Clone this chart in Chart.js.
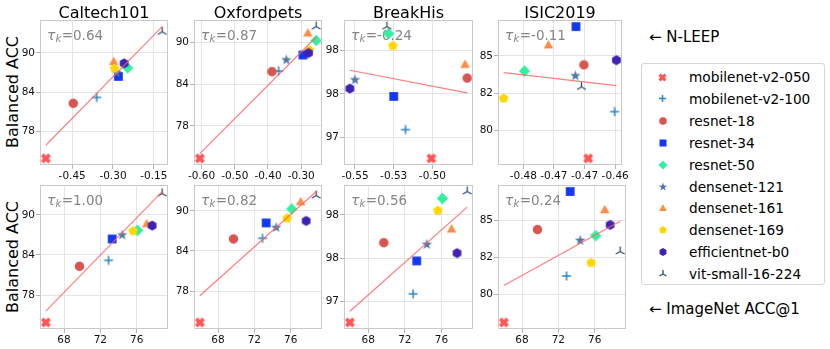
<!DOCTYPE html>
<html>
<head>
<meta charset="utf-8">
<title>N-LEEP vs ImageNet ACC</title>
<script src="https://cdn.jsdelivr.net/npm/chart.js@4.4.0/dist/chart.umd.min.js"></script>
<style>
  body { margin: 0; background: #fff; font-family: "DejaVu Sans", sans-serif; color: #000; }
  #wrap { position: relative; width: 830px; height: 349px; overflow: hidden; }
  .panel { position: absolute; }
  .ylabel { position: absolute; left: 12px; font-size: 16px; white-space: nowrap;
            transform: translate(-50%, -50%) rotate(-90deg); }
  #legend { position: absolute; left: 641px; top: 63px; width: 184px; height: 222px;
            border: 1px solid #d6d6d6; border-radius: 3px; box-sizing: border-box; background: #fff; }
  .item { position: absolute; font-size: 13.7px; line-height: 18px; white-space: nowrap; }
  .mk { position: absolute; }
  .arrow { position: absolute; left: 649px; font-size: 15px; line-height: 18px; white-space: nowrap; }
</style>
</head>
<body>
<div id="wrap">
  <div class="ylabel" style="top:92px">Balanced ACC</div>
  <div class="ylabel" style="top:257px">Balanced ACC</div>
  <div class="arrow" style="top:28px">← N-LEEP</div>
  <div class="arrow" style="top:300px">← ImageNet ACC@1</div>
  <div id="legend"></div>
</div>
<script>
// models, in legend order
const models = ['mobilenet-v2-050', 'mobilenet-v2-100', 'resnet-18', 'resnet-34', 'resnet-50',
  'densenet-121', 'densenet-161', 'densenet-169', 'efficientnet-b0', 'vit-small-16-224'];
const shapes = ['x', 'plus', 'circle', 'square', 'diamond', 'star', 'triangle', 'pentagon', 'hexagon', 'tri'];
const colors = ['#ff5555', '#2b86c5', '#d95550', '#1437f0', '#33f0a0',
  '#4f7aa8', '#ff8c45', '#ffd700', '#3f22b5', '#2f4b6e'];

const titles = ['Caltech101', 'Oxfordpets', 'BreakHis', 'ISIC2019'];

const imagenetAcc = [66.0, 72.9, 69.7, 73.3, 76.1, 74.4, 77.1, 75.6, 77.7, 78.8];

const nleepCaltech = [-0.547, -0.360, -0.446, -0.280, -0.246, -0.287, -0.297, -0.294, -0.259, -0.119];
const nleepOxford = [-0.605, -0.368, -0.388, -0.295, -0.255, -0.345, -0.280, -0.275, -0.278, -0.255];
const nleepBreakHis = [-0.5007, -0.5174, -0.4776, -0.525, -0.5283, -0.55, -0.4789, -0.5255, -0.5533, -0.5294];
const nleepIsic = [-0.4694, -0.4651, -0.4701, -0.4714, -0.4798, -0.4715, -0.4759, -0.4832, -0.4648, -0.4705];

const baccCaltech = [73.9, 83.2, 82.3, 86.4, 87.7, 87.0, 88.7, 87.6, 88.4, 93.2];
const baccOxford = [73.3, 85.9, 85.8, 88.2, 90.3, 87.5, 91.4, 88.9, 88.5, 92.3];
const baccBreakHis = [97.01, 97.34, 97.93, 97.72, 98.44, 97.91, 98.09, 98.30, 97.81, 98.52];
const baccIsic = [78.1, 81.25, 84.39, 86.97, 83.98, 83.66, 85.75, 82.14, 84.71, 82.91];

const tauNleep = ['0.64', '0.87', '-0.24', '-0.11'];
const tauImagenet = ['1.00', '0.82', '0.56', '0.24'];

// fitted lines, endpoints
const fitNleepX = [[-0.547, -0.119], [-0.605, -0.255], [-0.5533, -0.4776], [-0.4832, -0.4648]];
const fitNleepY = [[75.9, 94.0], [74.0, 90.8], [98.02, 97.76], [83.87, 83.0]];
const fitImagenetX = [66.0, 78.8];
const fitImagenetY = [[75.6, 93.5], [77.3, 92.9], [97.14, 98.34], [80.61, 84.96]];

// tick values and the labels shown for them
const nleepTicks = [[-0.45, -0.30, -0.15], [-0.6, -0.5, -0.4, -0.3], [-0.55, -0.525, -0.50], [-0.48, -0.475, -0.47, -0.465]];
const nleepTickLabels = [['-0.45', '-0.30', '-0.15'], ['-0.60', '-0.50', '-0.40', '-0.30'],
  ['-0.55', '-0.53', '-0.50'], ['-0.48', '-0.47', '-0.47', '-0.46']];
const imagenetTicks = [68, 72, 76];
const imagenetTickLabels = ['68', '72', '76'];
const baccTicks = [[78, 84, 90], [78, 84, 90], [97.25, 97.75, 98.25], [80, 82.5, 85]];
const baccTickLabels = [['78', '84', '90'], ['78', '84', '90'], ['97', '98', '98'], ['80', '82', '85']];

const nleepAll = [nleepCaltech, nleepOxford, nleepBreakHis, nleepIsic];
const baccAll = [baccCaltech, baccOxford, baccBreakHis, baccIsic];

// ---- marker images (matplotlib-like shapes) ----
function drawMarker(g, shape, m, s, color) {
  const r = s / 2;
  g.fillStyle = color;
  g.strokeStyle = color;
  g.beginPath();
  if (shape === 'circle') {
    g.arc(m, m, r, 0, Math.PI * 2);
    g.fill();
  } else if (shape === 'square') {
    g.fillRect(m - r * 0.92, m - r * 0.92, r * 1.84, r * 1.84);
  } else if (shape === 'diamond') {
    g.moveTo(m, m - r * 1.2); g.lineTo(m + r * 1.2, m); g.lineTo(m, m + r * 1.2); g.lineTo(m - r * 1.2, m);
    g.closePath(); g.fill();
  } else if (shape === 'triangle') {
    g.moveTo(m, m - r); g.lineTo(m + r, m + r * 0.8); g.lineTo(m - r, m + r * 0.8);
    g.closePath(); g.fill();
  } else if (shape === 'pentagon' || shape === 'hexagon' || shape === 'star') {
    const n = shape === 'pentagon' ? 5 : shape === 'hexagon' ? 6 : 10;
    for (let k = 0; k < n; k++) {
      const a = -Math.PI / 2 + k * 2 * Math.PI / n;
      const rr = shape === 'star' ? (k % 2 ? r * 0.45 : r * 1.1) : r;
      const px = m + rr * Math.cos(a), py = m + rr * Math.sin(a);
      k ? g.lineTo(px, py) : g.moveTo(px, py);
    }
    g.closePath(); g.fill();
  } else if (shape === 'plus') {
    g.lineWidth = 1.5;
    g.moveTo(m - r, m); g.lineTo(m + r, m);
    g.moveTo(m, m - r); g.lineTo(m, m + r);
    g.stroke();
  } else if (shape === 'tri') {
    g.lineWidth = 1.3;
    g.moveTo(m, m); g.lineTo(m, m - r);
    g.moveTo(m, m); g.lineTo(m - r * 0.87, m + r * 0.5);
    g.moveTo(m, m); g.lineTo(m + r * 0.87, m + r * 0.5);
    g.stroke();
  } else if (shape === 'x') {
    const w = r * 0.42;
    g.translate(m, m);
    for (const ang of [Math.PI / 4, -Math.PI / 4]) {
      g.save(); g.rotate(ang); g.fillRect(-r * 1.15, -w, r * 2.3, 2 * w); g.restore();
    }
    g.setTransform(1, 0, 0, 1, 0, 0);
  }
}

const markerSize = [9, 9, 9.5, 9.5, 9.5, 10, 9.5, 10, 10, 10];

function markerImage(i, scale) {
  const s = markerSize[i] * scale;
  const n = Math.ceil(s * 1.5) + 2;
  const c = document.createElement('canvas');
  c.width = n; c.height = n;
  drawMarker(c.getContext('2d'), shapes[i], n / 2, s, colors[i]);
  return c;
}

const pointImages = models.map((_, i) => markerImage(i, 1));

// ---- legend ----
const legend = document.getElementById('legend');
models.forEach((name, i) => {
  const cy = 13 + i * 21.9;
  const img = markerImage(i, 0.8);
  img.className = 'mk';
  img.style.left = (20.5 - img.width / 2) + 'px';
  img.style.top = (cy - img.height / 2) + 'px';
  legend.appendChild(img);
  const t = document.createElement('div');
  t.className = 'item';
  t.textContent = name;
  t.style.left = '47px';
  t.style.top = (cy - 9) + 'px';
  legend.appendChild(t);
});

// ---- panels ----
const plotX = [[40, 128], [194, 128], [344, 129], [498, 128]];
const plotY = [[20, 145], [185, 144]];
const M = { l: 40, t: 20, r: 4, b: 20 };

const panelDecor = {
  id: 'panelDecor',
  beforeDatasetsDraw(chart, args, o) {
    const { ctx, chartArea: a } = chart;
    ctx.save();
    let x = a.left + 7, y = a.top + 19.5;
    ctx.fillStyle = '#858585';
    ctx.textAlign = 'left';
    ctx.textBaseline = 'alphabetic';
    ctx.font = 'italic 14px "DejaVu Sans"';
    ctx.fillText('τ', x, y);
    x += ctx.measureText('τ').width;
    ctx.font = 'italic 10px "DejaVu Sans"';
    ctx.fillText('k', x, y + 2.5);
    x += ctx.measureText('k').width + 0.5;
    ctx.font = '13.5px "DejaVu Sans"';
    ctx.fillText('=' + o.tau, x, y);
    ctx.restore();
  },
  afterDraw(chart, args, o) {
    const { ctx, chartArea: a } = chart;
    ctx.save();
    ctx.strokeStyle = '#c9c9c9';
    ctx.lineWidth = 1;
    ctx.strokeRect(Math.round(a.left) + 0.5, Math.round(a.top) + 0.5,
      Math.round(a.right - a.left) - 1, Math.round(a.bottom - a.top) - 1);
    if (o.title) {
      ctx.fillStyle = '#000';
      ctx.font = '16px "DejaVu Sans"';
      ctx.textAlign = 'center';
      ctx.textBaseline = 'alphabetic';
      ctx.fillText(o.title, (a.left + a.right) / 2, a.top - 2.5);
    }
    ctx.restore();
  }
};

function limits(vals) {
  const lo = Math.min(...vals), hi = Math.max(...vals);
  const pad = (hi - lo) * 0.05;
  return [lo - pad, hi + pad];
}

function axis(pos, lim, ticks, labels, size) {
  return {
    type: 'linear',
    position: pos,
    min: lim[0],
    max: lim[1],
    afterBuildTicks: s => { s.ticks = ticks.map(v => ({ value: v })); },
    afterFit: s => { if (pos === 'left') s.width = size; else s.height = size; },
    ticks: {
      callback: (v, i) => labels[i],
      color: '#111',
      font: { family: 'DejaVu Sans', size: 10.5 },
      padding: 1,
      autoSkip: false,
      maxRotation: 0
    },
    grid: { color: '#e4e4e4', lineWidth: 1, drawTicks: true, tickLength: 4, tickColor: '#b5b5b5' },
    border: { display: false }
  };
}

function makePanel(row, col) {
  const xs = row === 0 ? nleepAll[col] : imagenetAcc;
  const ys = baccAll[col];
  const fx = row === 0 ? fitNleepX[col] : fitImagenetX;
  const fy = row === 0 ? fitNleepY[col] : fitImagenetY[col];
  const xt = row === 0 ? nleepTicks[col] : imagenetTicks;
  const xl = row === 0 ? nleepTickLabels[col] : imagenetTickLabels;

  const [px, pw] = plotX[col];
  const [py, ph] = plotY[row];
  const w = pw + M.l + M.r, h = ph + M.t + M.b;
  const div = document.createElement('div');
  div.className = 'panel';
  div.style.left = (px - M.l) + 'px';
  div.style.top = (py - M.t) + 'px';
  const cv = document.createElement('canvas');
  cv.width = w; cv.height = h;
  cv.style.width = w + 'px'; cv.style.height = h + 'px';
  div.appendChild(cv);
  document.getElementById('wrap').appendChild(div);

  const sets = models.map((name, i) => ({
    type: 'scatter',
    label: name,
    data: [{ x: xs[i], y: ys[i] }],
    pointStyle: pointImages[i],
    pointRadius: 5,
    order: 20 - i,
    clip: false
  }));
  sets.push({
    type: 'line',
    label: 'fit',
    data: [{ x: fx[0], y: fy[0] }, { x: fx[1], y: fy[1] }],
    borderColor: 'rgba(255, 95, 95, 0.8)',
    borderWidth: 1.2,
    pointRadius: 0,
    fill: false,
    order: -1
  });

  new Chart(cv, {
    type: 'scatter',
    data: { datasets: sets },
    options: {
      responsive: false,
      animation: false,
      devicePixelRatio: 1,
      layout: { autoPadding: false, padding: { top: M.t, right: M.r, left: 0, bottom: 0 } },
      scales: {
        x: axis('bottom', limits(xs.concat(fx)), xt, xl, M.b),
        y: axis('left', limits(ys.concat(fy)), baccTicks[col], baccTickLabels[col], M.l)
      },
      plugins: {
        legend: { display: false },
        tooltip: { enabled: false },
        panelDecor: { tau: row === 0 ? tauNleep[col] : tauImagenet[col], title: row === 0 ? titles[col] : '' }
      }
    },
    plugins: [panelDecor]
  });
}

for (let r = 0; r < 2; r++) for (let c = 0; c < 4; c++) makePanel(r, c);
</script>
</body>
</html>
